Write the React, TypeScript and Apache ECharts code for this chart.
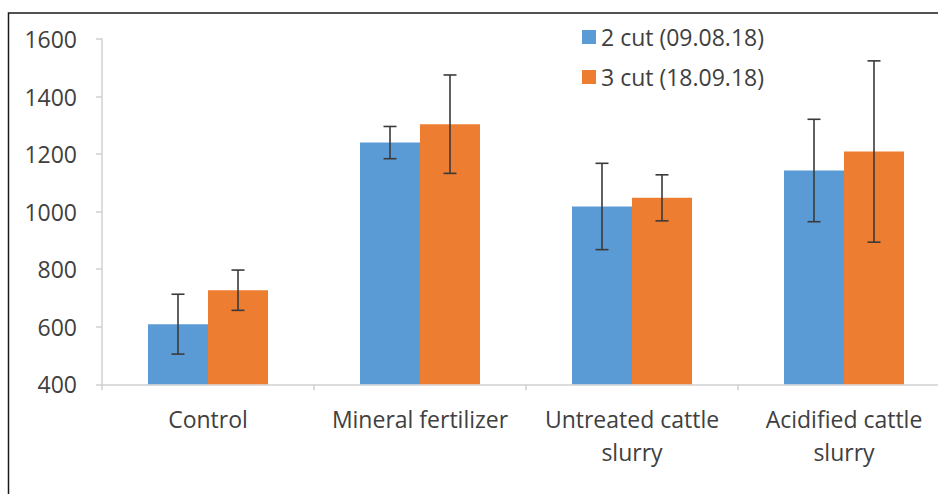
import React, { useEffect, useRef } from "react";
import * as echarts from "echarts";

const categories = ["Control", "Mineral fertilizer", "Untreated cattle\nslurry", "Acidified cattle\nslurry"];
const seriesNames = ["2 cut (09.08.18)", "3 cut (18.09.18)"];
const cut2Values = [609, 1240, 1018, 1143];
const cut2Errors = [104, 56, 150, 178];
const cut3Values = [727, 1304, 1048, 1209];
const cut3Errors = [70, 171, 80, 315];
const colors = ["#5B9BD5", "#ED7D31"];

const FONT = "'Open Sans', sans-serif";
const FS = 23;

export default function App() {
  const ref = useRef<HTMLDivElement>(null);
  useEffect(() => {
    if (!ref.current) return;
    const chart = echarts.init(ref.current, undefined, { renderer: "svg" });
    const barW = 60;
    const errData = (vals: number[], errs: number[]) =>
      vals.map((v, i) => [i, v - errs[i], v + errs[i]]);
    const makeErr = (vals: number[], errs: number[], offset: number) => ({
      type: "custom",
      z: 10,
      silent: true,
      data: errData(vals, errs),
      encode: { x: 0, y: [1, 2] },
      renderItem: (params: any, api: any) => {
        const lo = api.coord([api.value(0), api.value(1)]);
        const hi = api.coord([api.value(0), api.value(2)]);
        const x = lo[0] + offset;
        const cap = 6.5;
        const style = { stroke: "#3a3a3a", lineWidth: 1.6 };
        return {
          type: "group",
          children: [
            { type: "line", shape: { x1: x, y1: lo[1], x2: x, y2: hi[1] }, style },
            { type: "line", shape: { x1: x - cap, y1: lo[1], x2: x + cap, y2: lo[1] }, style },
            { type: "line", shape: { x1: x - cap, y1: hi[1], x2: x + cap, y2: hi[1] }, style },
          ],
        };
      },
    });
    chart.setOption({
      animation: false,
      textStyle: { fontFamily: FONT },
      color: colors,
      grid: { left: 102, top: 39, width: 848, height: 345.3, containLabel: false },
      legend: {
        orient: "vertical",
        left: 577,
        top: 18,
        itemWidth: 14,
        itemHeight: 14,
        itemGap: 12,
        icon: "rect",
        textStyle: { fontSize: FS, color: "#404040", fontFamily: FONT, lineHeight: 28 },
        data: seriesNames,
      },
      xAxis: {
        type: "category",
        data: categories,
        axisLine: { lineStyle: { color: "#d0d0d0", width: 1.5 } },
        axisTick: { show: true, length: 6, lineStyle: { color: "#d0d0d0", width: 1.5 } },
        axisLabel: { interval: 0, fontSize: FS, color: "#404040", lineHeight: 33, margin: 18, fontFamily: FONT },
      },
      yAxis: {
        type: "value",
        min: 400,
        max: 1600,
        interval: 200,
        splitLine: { show: false },
        axisLine: { show: true, lineStyle: { color: "#d0d0d0", width: 1.5 } },
        axisTick: { show: true, length: 6, lineStyle: { color: "#d0d0d0", width: 1.5 } },
        axisLabel: { fontSize: FS, color: "#404040", margin: 25, fontFamily: FONT, formatter: (v: number) => String(v) },
      },
      series: [
        { name: seriesNames[0], type: "bar", data: cut2Values, barWidth: barW, barGap: "0%", itemStyle: { color: colors[0] } },
        { name: seriesNames[1], type: "bar", data: cut3Values, barWidth: barW, barGap: "0%", itemStyle: { color: colors[1] } },
        makeErr(cut2Values, cut2Errors, -barW / 2),
        makeErr(cut3Values, cut3Errors, barW / 2),
      ],
      graphic: [
        {
          type: "rect",
          silent: true,
          shape: { x: 8.5, y: 13, width: 1000, height: 600 },
          style: { fill: "none", stroke: "#1a1a1a", lineWidth: 1.5 },
        },
      ],
    });
    return () => chart.dispose();
  }, []);
  return (
    <div style={{ position: "absolute", left: 0, top: 0, width: 938, height: 494, overflow: "hidden", background: "#fff" }}>
      <div ref={ref} style={{ width: 960, height: 494 }} />
    </div>
  );
}
